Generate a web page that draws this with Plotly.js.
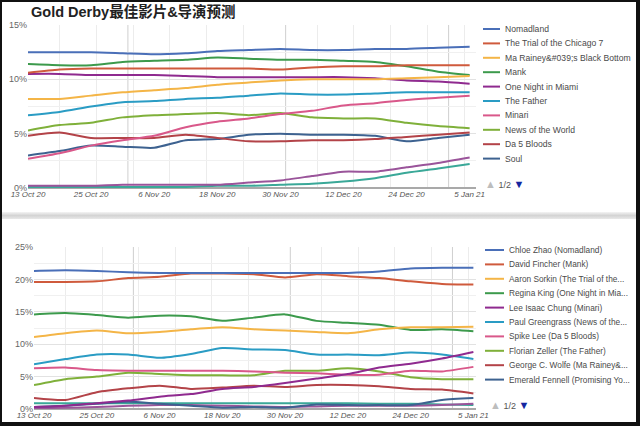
<!DOCTYPE html>
<html><head><meta charset="utf-8">
<script src="https://cdn.plot.ly/plotly-3.0.1.min.js"></script>
<style>
html,body{margin:0;padding:0;background:#fff;}
#wrap{position:relative;width:640px;height:426px;overflow:hidden;background:#fff;}
#top{position:absolute;left:0;top:0;width:640px;height:214px;}
#bot{position:absolute;left:0;top:218px;width:640px;height:204px;}
.bar{position:absolute;background:#111;}
#sep{position:absolute;left:0;top:212px;width:640px;height:7px;background:linear-gradient(#f4f4f4,#d4d4d4,#e8e8e8);}
</style></head><body>
<div id="wrap">
<div id="top"></div>
<div id="sep"></div>
<div id="bot"></div>
<div class="bar" style="left:0;top:0;width:2px;height:426px"></div>
<div class="bar" style="left:0;top:0;width:640px;height:2px"></div>
<div class="bar" style="left:636px;top:0;width:4px;height:426px"></div>
<div class="bar" style="left:0;top:422px;width:640px;height:4px"></div>
</div>
<script>
// ---------- shared dates ----------
const dates = ['2020-10-13','2020-10-19','2020-10-25','2020-10-31','2020-11-06','2020-11-12','2020-11-18',
  '2020-11-24','2020-11-30','2020-12-06','2020-12-12','2020-12-18','2020-12-24','2020-12-30','2021-01-05'];
const monthStarts = ['2020-11-01','2020-12-01','2021-01-01'];
const titleText = 'Gold Derby最佳影片&amp;导演预测';

// ---------- Best Picture (top) ----------
const filmNames = ['Nomadland','The Trial of the Chicago 7','Ma Rainey&amp;#039;s Black Bottom','Mank',
  'One Night in Miami','The Father','Minari','News of the World','Da 5 Bloods','Soul'];
const nomadland   = [12.5,12.5,12.5,12.4,12.3,12.4,12.6,12.7,12.8,12.7,12.7,12.8,12.8,12.9,13.0];
const chicago7    = [10.6,10.9,11.0,11.0,11.0,11.0,11.0,11.0,10.9,11.1,11.2,11.2,11.3,11.3,11.3];
const maRainey    = [8.2,8.2,8.5,8.8,9.0,9.2,9.5,9.7,9.9,10.0,10.0,10.0,10.1,10.2,10.3];
const mank        = [11.4,11.3,11.3,11.6,11.7,11.8,12.0,11.9,11.8,11.8,11.7,11.6,11.2,10.7,10.4];
const oneNight    = [10.5,10.5,10.4,10.4,10.4,10.3,10.2,10.2,10.2,10.2,10.2,10.1,9.9,9.8,9.6];
const theFather   = [6.7,7.0,7.5,7.9,8.0,8.2,8.3,8.5,8.7,8.6,8.6,8.7,8.8,8.8,8.8];
const minari      = [2.7,3.2,3.9,4.4,4.8,5.6,6.1,6.4,6.8,7.1,7.6,7.8,8.1,8.3,8.5];
const newsWorld   = [5.3,5.8,6.0,6.5,6.7,6.8,6.9,6.7,6.9,6.5,6.4,6.4,6.0,5.7,5.5];
const da5Bloods   = [4.8,5.1,4.6,4.6,4.6,4.9,4.6,4.3,4.3,4.4,4.4,4.5,4.7,4.9,5.1];
const soul        = [3.0,3.4,3.9,3.8,3.7,4.4,4.5,4.9,5.0,4.9,4.9,4.8,4.3,4.6,4.9];
const filmPage2a  = [0.2,0.2,0.2,0.3,0.3,0.3,0.3,0.5,0.7,1.1,1.5,1.5,1.9,2.3,2.8];
const filmPage2b  = [0.1,0.1,0.1,0.1,0.1,0.1,0.2,0.2,0.3,0.4,0.6,0.9,1.4,1.8,2.2];

// ---------- Best Director (bottom) ----------
const directorNames = ['Chloe Zhao (Nomadland)','David Fincher (Mank)','Aaron Sorkin (The Trial of the...',
  'Regina King (One Night in Mia...','Lee Isaac Chung (Minari)','Paul Greengrass (News of the...',
  'Spike Lee (Da 5 Bloods)','Florian Zeller (The Father)','George C. Wolfe (Ma Rainey&amp;...',
  'Emerald Fennell (Promising Yo...'];
const zhao       = [21.3,21.4,21.3,21.1,21.0,21.0,21.0,21.0,21.0,21.0,21.0,21.2,21.7,21.8,21.8];
const fincher    = [19.6,19.6,19.7,20.2,20.4,20.9,20.9,20.8,20.3,20.8,20.5,20.2,19.7,19.3,19.2];
const sorkin     = [11.1,11.7,12.1,11.7,11.9,12.3,12.6,12.3,12.1,11.9,11.7,12.3,12.6,12.6,12.7];
const king       = [14.6,14.8,14.5,14.1,14.4,14.3,13.6,14.1,14.6,13.6,13.3,13.0,12.2,12.3,12.0];
const chung      = [0.3,0.5,0.9,1.3,1.9,2.3,3.1,3.4,4.0,4.7,5.4,6.4,7.0,7.8,8.8];
const greengrass = [6.9,7.7,8.4,8.4,7.9,8.5,9.4,9.2,9.1,8.4,8.4,8.3,8.7,8.4,7.7];
const spikeLee   = [6.3,6.4,6.0,5.9,5.9,5.9,5.9,5.8,5.6,5.5,5.3,5.3,5.9,5.8,6.5];
const zeller     = [3.7,4.6,5.0,5.6,5.4,5.2,5.2,5.2,5.9,5.9,6.3,5.8,4.9,4.6,4.6];
const wolfe      = [1.7,1.4,2.6,3.2,3.6,3.1,3.3,3.6,3.4,3.7,3.7,3.5,3.1,3.0,2.4];
const fennell    = [0.3,0.5,0.8,1.1,0.8,0.5,0.2,0.3,0.2,0.7,0.6,0.6,0.6,1.4,1.7];
const dirPage2a  = [0.1,0.2,0.3,0.5,0.6,0.6,0.5,0.4,0.3,0.4,0.5,0.5,0.5,0.6,0.8];
const dirPage2b  = [0.9,0.9,0.9,0.9,0.9,0.9,0.9,0.9,0.9,0.9,0.9,0.8,0.8,0.7,0.6];

const palette = ['#4a6fb8','#cf5a3c','#f4b547','#3c9a4c','#8f2a8f','#2a9cc4','#d9588a','#7fb03a','#b34348','#3d6290','#9a549a','#3aa898'];

const FONT = 'Liberation Sans, Arial, Helvetica, sans-serif';

function makeChart(divId, cfg) {
  const W = 640, H = cfg.height;
  const plotW = W - cfg.l - cfg.r, plotH = H - cfg.t - cfg.b;
  const px = v => (v - cfg.l) / plotW;
  const py = v => (H - cfg.b - v) / plotH;
  const traces = cfg.series.map((s, i) => ({
    type: 'scatter', mode: 'lines', x: dates, y: s.values, name: s.name,
    line: {color: palette[i], width: 2, shape: 'spline', smoothing: 0.6},
    showlegend: false, hoverinfo: 'skip'
  }));
  traces.reverse();
  const shapes = monthStarts.map(d => ({
    type: 'line', xref: 'x', yref: 'paper', x0: d, x1: d, y0: 0, y1: 1,
    line: {color: '#cfcfcf', width: 1}, layer: 'below'
  }));
  const annotations = [];
  cfg.legendNames.forEach((nm, i) => {
    const ly = cfg.legendY0 + i * cfg.legendStep;
    shapes.push({type: 'line', xref: 'paper', yref: 'paper',
      x0: px(cfg.legendX), x1: px(cfg.legendX + cfg.swatch), y0: py(ly), y1: py(ly),
      line: {color: palette[i], width: 2}});
    annotations.push({xref: 'paper', yref: 'paper', x: px(cfg.legendX + cfg.swatch + 3), y: py(ly),
      xanchor: 'left', yanchor: 'middle', showarrow: false, text: nm,
      font: {family: FONT, size: cfg.legendFont, color: '#4a4a4a'}});
  });
  annotations.push({xref: 'paper', yref: 'paper', x: px(cfg.pagerX), y: py(cfg.pagerY),
    xanchor: 'left', yanchor: 'middle', showarrow: false,
    text: '<span style="color:#bdbdbd;font-size:11px">▲</span> 1/2 <span style="color:#1526a0;font-size:11px">▼</span>',
    font: {family: FONT, size: 9, color: '#555'}});
  const layout = {
    width: W, height: H, margin: {l: cfg.l, r: cfg.r, t: cfg.t, b: cfg.b, pad: 0},
    paper_bgcolor: 'rgba(0,0,0,0)', plot_bgcolor: '#fff', showlegend: false,
    xaxis: {type: 'date', range: cfg.xRange, tick0: '2020-10-13', dtick: 12 * 86400000,
      tickformat: '%-d %b %y', showgrid: false, zeroline: false, ticks: '', ticklen: 0,
      tickfont: {family: FONT, size: 8, color: '#555', style: 'italic'},
      minor: {tick0: '2020-10-19', dtick: 7 * 86400000, showgrid: true, gridcolor: '#ececec', gridwidth: 1},
      showline: false, fixedrange: true},
    yaxis: {range: cfg.yRange, dtick: 5, ticksuffix: '%', showgrid: true, gridcolor: '#e2e2e2',
      minor: {dtick: 2.5, showgrid: true, gridcolor: '#f0f0f0'},
      zeroline: true, zerolinecolor: '#a9a9a9', zerolinewidth: 2, ticks: '', ticklen: 2,
      tickfont: {family: FONT, size: 9, color: '#666'}, fixedrange: true},
    shapes: shapes, annotations: annotations
  };
  if (cfg.title) {
    layout.title = {text: cfg.title, xref: 'container', yref: 'container', x: 31 / W, xanchor: 'left',
      y: 1 - 12 / H, yanchor: 'middle',
      font: {family: 'Liberation Sans, Noto Sans CJK SC, sans-serif', size: 14.5, color: '#222', weight: 'bold'}};
  }
  Plotly.newPlot(divId, traces, layout, {staticPlot: true, displayModeBar: false});
}

makeChart('top', {
  height: 214, l: 28, r: 164, t: 25, b: 26,
  xRange: ['2020-10-13', '2021-01-06 05:00'], yRange: [0, 15], title: titleText,
  series: [
    {name: filmNames[0], values: nomadland}, {name: filmNames[1], values: chicago7},
    {name: filmNames[2], values: maRainey}, {name: filmNames[3], values: mank},
    {name: filmNames[4], values: oneNight}, {name: filmNames[5], values: theFather},
    {name: filmNames[6], values: minari}, {name: filmNames[7], values: newsWorld},
    {name: filmNames[8], values: da5Bloods}, {name: filmNames[9], values: soul},
    {name: 'page 2 film a', values: filmPage2a}, {name: 'page 2 film b', values: filmPage2b}
  ],
  legendNames: filmNames, legendX: 483, swatch: 17, legendY0: 29, legendStep: 14.4, legendFont: 8.6,
  pagerX: 483, pagerY: 184
});

makeChart('bot', {
  height: 204, l: 34, r: 164, t: 29, b: 13,
  xRange: ['2020-10-13', '2021-01-05 12:00'], yRange: [0, 25], title: null,
  series: [
    {name: directorNames[0], values: zhao}, {name: directorNames[1], values: fincher},
    {name: directorNames[2], values: sorkin}, {name: directorNames[3], values: king},
    {name: directorNames[4], values: chung}, {name: directorNames[5], values: greengrass},
    {name: directorNames[6], values: spikeLee}, {name: directorNames[7], values: zeller},
    {name: directorNames[8], values: wolfe}, {name: directorNames[9], values: fennell},
    {name: 'page 2 director a', values: dirPage2a}, {name: 'page 2 director b', values: dirPage2b}
  ],
  legendNames: directorNames, legendX: 485, swatch: 19, legendY0: 250 - 218, legendStep: 14.4, legendFont: 8.3,
  pagerX: 488, pagerY: 405 - 218
});
</script>
</body></html>
